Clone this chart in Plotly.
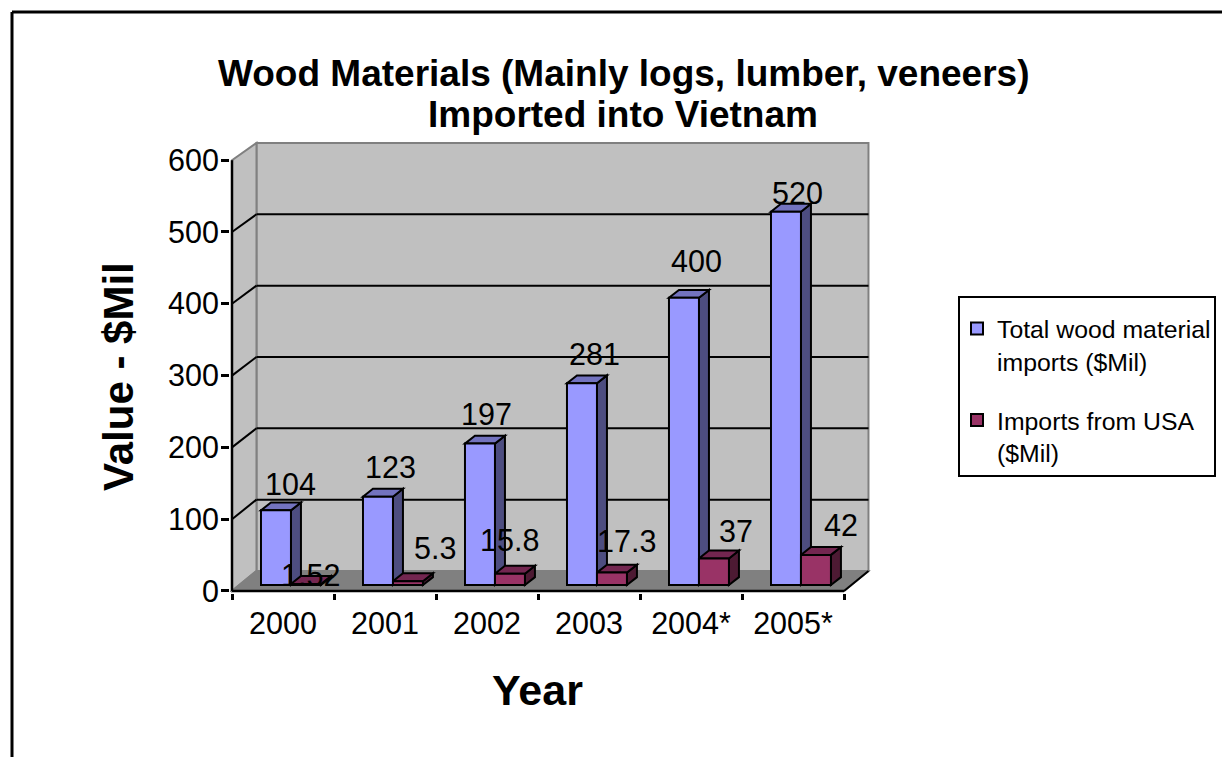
import plotly.graph_objects as go

# ---- data ----
years = ["2000", "2001", "2002", "2003", "2004*", "2005*"]
total_imports = [104, 123, 197, 281, 400, 520]
usa_imports = [1.52, 5.3, 15.8, 17.3, 37, 42]
total_name = "Total wood material<br>imports ($Mil)"
usa_name = "Imports from USA<br>($Mil)"
y_ticks = [0, 100, 200, 300, 400, 500, 600]
title_lines = ["Wood Materials (Mainly logs, lumber, veneers)", "Imported into Vietnam"]
x_title = "Year"
y_title = "Value - $Mil"

# ---- page geometry (px) ----
W, H = 1222, 757
PX_X0, PX_CAT = 232, 102      # front left edge of axis, width of a category
PX_Y0, PX_UNIT = 591, 0.718   # y pixel of value 0, pixels per value unit
XR = (-0.52, 5.76)
YR = (-3, 628)

# ---- pseudo-3D style in axis units ----
WALL_DX, WALL_DY, WALL_SCALE = 0.240, 27.9, 0.9935
BAR_BASE = 8.3
BAR_W = 0.294
BAR_DX, BAR_DY = 0.098, 11.0
OFF_TOTAL, OFF_USA = -0.216, 0.078
C_WALL, C_EDGE, C_FLOOR = "#C0C0C0", "#808080", "#808080"
C_T = ("#9999FF", "#4D4D80", "#7373BF")
C_U = ("#993366", "#4D1A33", "#732650")

dom_x = [(PX_X0 + (XR[0] + 0.5) * PX_CAT) / W, (PX_X0 + (XR[1] + 0.5) * PX_CAT) / W]
dom_y = [(H - (PX_Y0 - YR[0] * PX_UNIT)) / H, (H - (PX_Y0 - YR[1] * PX_UNIT)) / H]


def poly(pts, fill, line="black", width=2):
    path = "M " + " L ".join(f"{x:.4f},{y:.4f}" for x, y in pts) + " Z"
    return dict(type="path", path=path, xref="x", yref="y", layer="below",
                fillcolor=fill, line=dict(color=line, width=width))


def seg(a, b, color="black", width=2):
    return dict(type="line", x0=a[0], y0=a[1], x1=b[0], y1=b[1], xref="x", yref="y",
                layer="below", line=dict(color=color, width=width))


L, R, TOP = -0.5, 5.5, y_ticks[-1]
back = lambda v: WALL_DY + v * WALL_SCALE
bx0, bx1 = L + WALL_DX, R + WALL_DX

shapes = [
    poly([(bx0, back(0)), (bx1, back(0)), (bx1, back(TOP)), (bx0, back(TOP))], C_WALL, C_EDGE),
    poly([(L, 0), (bx0, back(0)), (bx0, back(TOP)), (L, TOP)], C_WALL, C_EDGE),
    poly([(L, 0), (R, 0), (bx1, back(0)), (bx0, back(0))], C_FLOOR, C_EDGE),
]
for v in y_ticks[1:-1]:
    shapes.append(seg((L, v), (bx0, back(v))))
    shapes.append(seg((bx0, back(v)), (bx1, back(v))))
shapes += [seg((L, 0), (L, TOP), width=2.5), seg((L, 0), (R, 0), width=2.5), seg((R, 0), (bx1, back(0)))]


def depth_faces(values, offset, colors):
    out = []
    for i, v in enumerate(values):
        x0, x1 = i + offset, i + offset + BAR_W
        y0, y1 = BAR_BASE, BAR_BASE + v
        out.append(poly([(x1, y0), (x1 + BAR_DX, y0 + BAR_DY), (x1 + BAR_DX, y1 + BAR_DY), (x1, y1)], colors[1]))
        out.append(poly([(x0, y1), (x1, y1), (x1 + BAR_DX, y1 + BAR_DY), (x0 + BAR_DX, y1 + BAR_DY)], colors[2]))
    return out


shapes += depth_faces(total_imports, OFF_TOTAL, C_T)
shapes += depth_faces(usa_imports, OFF_USA, C_U)

# legend box and the outer chart frame, page-anchored
shapes += [
    dict(type="rect", xref="paper", yref="paper", x0=959 / W, x1=1215 / W,
         y0=1 - 476 / H, y1=1 - 297 / H, fillcolor="white", line=dict(color="black", width=2), layer="below"),
    dict(type="line", xref="paper", yref="paper", x0=12 / W, x1=1, y0=1 - 12 / H, y1=1 - 12 / H,
         line=dict(color="black", width=3)),
    dict(type="line", xref="paper", yref="paper", x0=12 / W, x1=12 / W, y0=0, y1=1 - 12 / H,
         line=dict(color="black", width=3)),
]

LABEL_SIZE = 30.5
tot_shift = [(15, 26), (13, 30), (7, 30), (13, 29), (13, 37), (12, 19)]
usa_shift = [(5, 9), (27, 33), (0, 34), (15, 32), (22, 27), (25, 30)]
annotations = []
for i, (v, s) in enumerate(zip(total_imports, tot_shift)):
    annotations.append(dict(x=i + OFF_TOTAL + BAR_W / 2, y=BAR_BASE + v, text=str(v), showarrow=False,
                            xshift=s[0], yshift=s[1], xanchor="center", yanchor="middle",
                            font=dict(size=LABEL_SIZE, color="black")))
for i, (v, s) in enumerate(zip(usa_imports, usa_shift)):
    annotations.append(dict(x=i + OFF_USA + BAR_W / 2, y=BAR_BASE + v, text=str(v), showarrow=False,
                            xshift=s[0], yshift=s[1], xanchor="center", yanchor="middle",
                            font=dict(size=LABEL_SIZE, color="black")))


def page_text(text, x, y, size, angle=0):
    return dict(text=f"<b>{text}</b>", x=x / W, y=1 - y / H, xref="paper", yref="paper", showarrow=False,
                xanchor="center", yanchor="middle", textangle=angle, font=dict(size=size, color="black"))


annotations += [
    page_text(title_lines[0], 623, 74, 37),
    page_text(title_lines[1], 623, 115, 37),
    page_text(x_title, 537, 690, 43),
    page_text(y_title, 118, 377, 42, -90),
]

idx = list(range(len(years)))
fig = go.Figure()
fig.add_bar(x=idx, y=total_imports, base=BAR_BASE, width=BAR_W, offset=OFF_TOTAL, name=total_name,
            legendgroup="a", marker=dict(color=C_T[0], line=dict(color="black", width=2)), hoverinfo="x+y")
fig.add_bar(x=idx, y=usa_imports, base=BAR_BASE, width=BAR_W, offset=OFF_USA, name=usa_name,
            legendgroup="b", marker=dict(color=C_U[0], line=dict(color="black", width=2)), hoverinfo="x+y")

font = "Liberation Sans, Arial, sans-serif"
fig.update_layout(
    width=W, height=H, autosize=False, margin=dict(l=0, r=0, t=0, b=0, autoexpand=False),
    paper_bgcolor="white", plot_bgcolor="rgba(0,0,0,0)", barmode="overlay",
    font=dict(family=font, color="black"),
    xaxis=dict(domain=dom_x, range=list(XR), showgrid=False, zeroline=False, showline=False,
               tickmode="array", tickvals=idx, ticktext=years, ticks="", tickfont=dict(size=LABEL_SIZE),
               ticklabelstandoff=9,
               minor=dict(tickmode="array", tickvals=[i - 0.5 for i in range(len(years) + 1)],
                          ticks="outside", ticklen=6, tickwidth=2.5, tickcolor="black", showgrid=False)),
    yaxis=dict(domain=dom_y, range=list(YR), showgrid=False, zeroline=False, showline=False,
               tickmode="array", tickvals=y_ticks, ticks="outside", ticklen=8, tickwidth=2.5, tickcolor="black",
               tickfont=dict(size=LABEL_SIZE), ticklabelstandoff=-4),
    legend=dict(x=957 / W, y=1 - 306 / H, xanchor="left", yanchor="top", bgcolor="rgba(0,0,0,0)", valign="top",
                borderwidth=0, font=dict(size=24.8), tracegroupgap=24, itemclick=False, itemdoubleclick=False),
    shapes=shapes, annotations=annotations, showlegend=True,
)
fig.write_html("out.html", config=dict(displayModeBar=False),
               post_script="document.body.style.margin='0';document.documentElement.style.overflow='hidden';")
